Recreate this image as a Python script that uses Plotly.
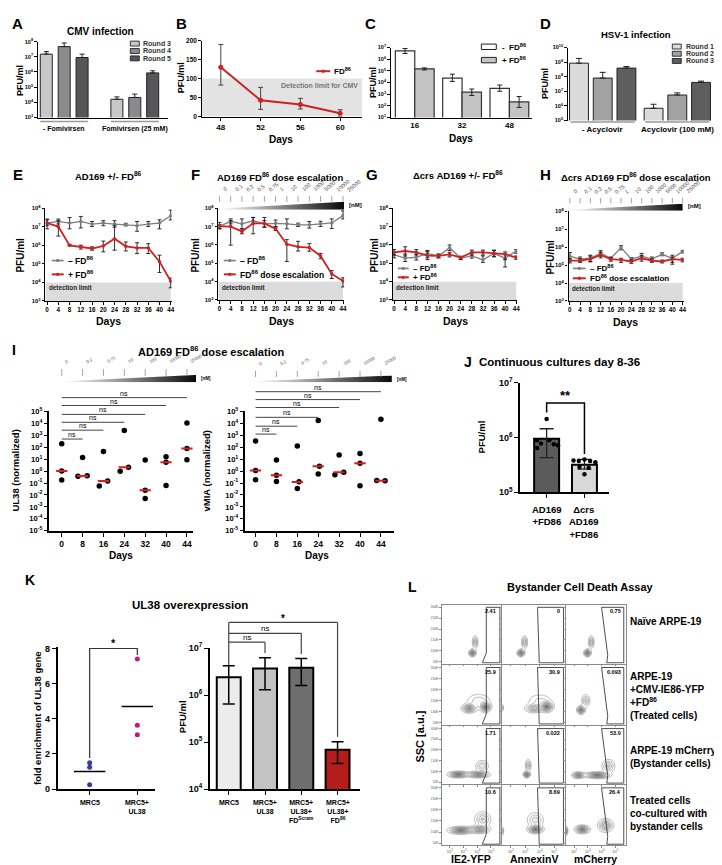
import numpy as np
import plotly.graph_objects as go

FONT = 'Liberation Sans, Arial, Helvetica, sans-serif'
W, H = 722, 865

# ======================= DATA =======================
# A  CMV infection
A_groups = ['- Fomivirsen', 'Fomivirsen (25 mM)']
A_rounds = ['Round 3', 'Round 4', 'Round 5']
A_values = [[1.5e7, 1.6e4], [4.7e7, 2.1e4], [9.0e6, 8.7e5]]
A_upper = [[2.2e7, 2.3e4], [8.1e7, 3.5e4], [1.5e7, 1.2e6]]
# B
B_days = [48, 52, 56, 60]
B_fd86 = [130, 43, 32, 9]
B_upper = [190, 77, 48, 18]
B_lower = [83, 19, 20, 0]
# C
C_days = ['16', '32', '48']
C_minus = [5.2e6, 2.4e4, 3.2e3]
C_minus_hi = [8.3e6, 5.2e4, 6.1e3]
C_minus_lo = [3.1e6, 1.26e4, 1.8e3]
C_plus = [1.5e5, 1.5e3, 2.2e2]
C_plus_hi = [1.8e5, 2.8e3, 6.3e2]
C_plus_lo = [1.2e5, 7.8e2, 74]
# D  HSV-1 infection
D_groups = ['- Acyclovir', 'Acyclovir (100 mM)']
D_rounds = ['Round 1', 'Round 2', 'Round 3']
D_values = [[8.5e8, 6.9e5], [8.1e7, 5.6e6], [3.9e8, 4.1e7]]
D_upper = [[1.8e9, 1.3e6], [2.0e8, 7.8e6], [5.0e8, 5.0e7]]
# E-H time courses (log10 PFU/ml)
DAYS = [0, 4, 8, 12, 16, 20, 24, 28, 32, 36, 40, 44]
E_minus = [7.2, 7.29, 7.2, 7.29, 7.15, 7.2, 7.15, 7.12, 7.06, 7.15, 7.2, 7.6]
E_minus_hi = [7.42, 7.42, 7.5, 7.56, 7.29, 7.33, 7.33, 7.19, 7.29, 7.29, 7.38, 7.9]
E_minus_lo = [6.89, 7.15, 6.89, 6.94, 7.02, 7.06, 6.98, 7.05, 6.76, 7.02, 6.89, 7.37]
E_plus = [7.2, 7.01, 6.0, 5.92, 5.83, 5.97, 6.36, 5.95, 5.86, 5.86, 5.12, 4.06]
E_plus_hi = [7.38, 7.33, 6.04, 6.01, 5.92, 6.23, 7.06, 6.18, 6.14, 6.09, 5.47, 4.24]
E_plus_lo = [7.06, 6.5, 5.97, 5.8, 5.74, 5.65, 5.74, 5.7, 5.56, 5.56, 4.54, 3.71]

F_minus = [7.02, 7.29, 7.15, 7.32, 7.15, 7.18, 7.15, 7.1, 7.1, 7.15, 7.2, 7.6]
F_minus_hi = [7.23, 7.42, 7.42, 7.5, 7.33, 7.36, 7.42, 7.19, 7.28, 7.29, 7.42, 7.86]
F_minus_lo = [6.88, 7.15, 6.88, 7.15, 6.97, 7.0, 6.88, 7.01, 6.92, 7.01, 6.9, 7.42]
F_plus = [7.02, 7.0, 6.74, 7.18, 7.18, 6.88, 6.04, 5.9, 5.86, 5.4, 4.42, 4.03]
F_plus_hi = [7.1, 7.32, 6.88, 7.5, 7.5, 6.97, 6.29, 6.2, 6.07, 5.54, 4.6, 4.21]
F_plus_lo = [6.88, 5.99, 6.61, 6.61, 6.97, 6.79, 5.1, 5.67, 5.66, 5.25, 4.17, 3.71]
F_doses = ['0', '0.1', '0.2', '0.5', '0.75', '1', '10', '100', '1000', '5000', '10000', '25000']

G_minus = [5.46, 5.28, 5.33, 5.54, 5.4, 5.85, 5.28, 5.4, 5.19, 5.54, 5.28, 5.67]
G_minus_hi = [5.6, 5.5, 5.5, 5.7, 5.5, 6.0, 5.38, 5.55, 5.4, 5.7, 5.5, 5.75]
G_minus_lo = [5.3, 5.1, 5.18, 5.3, 5.3, 5.7, 5.2, 5.28, 5.05, 5.35, 4.8, 5.55]
G_plus = [5.6, 5.67, 5.6, 5.42, 5.4, 5.49, 5.31, 5.6, 5.6, 5.54, 5.5, 5.31]
G_plus_hi = [5.75, 5.9, 5.75, 5.65, 5.5, 5.6, 5.38, 5.72, 5.72, 5.72, 5.62, 5.4]
G_plus_lo = [5.45, 5.4, 5.45, 5.2, 5.3, 5.35, 5.22, 5.45, 5.45, 5.38, 5.2, 5.22]

H_minus = [5.5, 5.33, 5.38, 5.66, 5.38, 5.97, 5.33, 5.5, 5.33, 5.6, 5.38, 5.75]
H_minus_hi = [5.7, 5.45, 5.55, 5.8, 5.45, 6.08, 5.42, 5.65, 5.45, 5.68, 5.55, 5.82]
H_minus_lo = [5.35, 5.2, 5.2, 5.5, 5.3, 5.85, 5.22, 5.35, 5.22, 5.52, 5.05, 5.68]
H_plus = [5.25, 5.25, 5.33, 5.56, 5.33, 5.29, 5.2, 5.38, 5.25, 5.2, 5.33, 5.29]
H_plus_hi = [5.35, 5.35, 5.5, 5.72, 5.42, 5.38, 5.3, 5.52, 5.35, 5.28, 5.45, 5.38]
H_plus_lo = [5.12, 5.15, 5.18, 5.4, 5.22, 5.15, 5.1, 5.22, 5.15, 5.12, 5.15, 5.18]

# I  (log10 normalized expression)
I_days = ['0', '8', '16', '24', '32', '40', '44']
I_doses = ['0', '0.2', '0.75', '10', '100', '10000', '25000']
UL38_log = [[2.3, 0.0, -0.75], [1.14, -0.43, -0.4], [1.64, -1.25, -0.84], [3.4, -0.01, 0.32],
            [0.92, -1.6, -2.3], [1.2, 0.73, -1.2], [4.03, 1.89, 0.95]]
UL38_off = [[0, 0, 0], [0, -0.22, 0.22], [0, -0.2, 0.2], [0, -0.2, 0.2], [0, 0, 0], [0, 0, 0], [0, 0, 0]]
UL38_median_log = [0.0, -0.42, -0.84, 0.32, -1.6, 0.73, 1.89]
VMIA_log = [[2.52, 0.05, -0.72], [0.92, -0.35, -0.88], [2.1, -0.9, -1.47], [4.23, 0.4, -0.25],
            [1.34, -0.1, -0.3], [1.47, 0.65, -1.22], [4.34, -0.79, -0.82]]
VMIA_off = [[0, 0, 0], [0, 0, 0], [0, 0.08, 0], [0, 0.06, 0], [0, 0.22, -0.2], [0, 0, 0], [0, -0.2, 0.2]]
VMIA_median_log = [0.05, -0.35, -0.92, 0.4, -0.1, 0.65, -0.8]

# J
J_groups = ['AD169<br>+FD86', '\u0394crs<br>AD169<br>+FD86']
J_mean = [9.5e5, 3.2e5]
J_upper = [1.45e6, 4.0e5]
J_lower = [4.3e5, 2.65e5]
J_points_log = [[6.34, 5.95, 5.89, 5.95, 5.88, 5.86, 5.81],
                [5.58, 5.57, 5.6, 5.57, 5.55, 5.46, 5.33, 5.45]]
J_offsets = [[0, -0.26, -0.15, 0.07, 0.19, 0.3, -0.25],
             [-0.29, -0.15, 0, 0.15, 0.29, -0.13, 0, 0.11]]

# K
K_left_groups = ['MRC5', 'MRC5+<br>UL38']
K_mrc5 = [1.5, 1.25, 0.25]
K_ul38 = [7.4, 3.63, 3.1]
K_means = [1.0, 4.7]
K_right_groups = ['MRC5', 'MRC5+<br>UL38', 'MRC5+<br>UL38+<br>FD<sup>Scram</sup>', 'MRC5+<br>UL38+<br>FD<sup>86</sup>']
K_vals = [2.4e6, 3.7e6, 3.8e6, 6.9e4]
K_upper = [4.2e6, 6.2e6, 6.0e6, 1.02e5]
K_lower = [6.5e5, 1.3e6, 1.6e6, 3.5e4]

# L  flow cytometry
L_rows = ['Na\u00efve ARPE-19', 'ARPE-19<br>+CMV-IE86-YFP<br>+FD<sup>86</sup><br>(Treated cells)',
          'ARPE-19 mCherry+<br>(Bystander cells)', 'Treated cells<br>co-cultured with<br>bystander cells']
L_cols = ['IE2-YFP', 'AnnexinV', 'mCherry']
L_pct = [['2.41', '0', '0.75'], ['25.9', '30.9', '0.093'], ['1.71', '0.022', '53.0'], ['10.6', '8.69', '26.4']]
# density blobs (log10 fluorescence, SSC in K, sd_x, sd_y, weight) describing each contour plot
L_blobs = [
    [[(3.65, 90, 0.14, 9, 1.0), (3.85, 140, 0.12, 17, 0.55)],
     [(2.7, 90, 0.14, 9, 1.0), (2.95, 140, 0.12, 17, 0.55)],
     [(2.97, 90, 0.14, 9, 1.0), (3.25, 140, 0.12, 17, 0.55)]],
    [[(3.4, 115, 0.3, 11, 0.9), (4.6, 120, 0.22, 12, 1.0), (4.1, 150, 0.55, 20, 0.35)],
     [(3.6, 115, 0.35, 11, 0.7), (4.5, 122, 0.25, 13, 1.0), (4.0, 150, 0.55, 20, 0.3), (1.3, 118, 0.1, 10, 0.9)],
     [(2.5, 108, 0.16, 10, 1.0), (2.85, 150, 0.18, 16, 0.5)]],
    [[(2.6, 85, 0.4, 8, 1.0), (4.1, 85, 0.45, 8, 0.9), (4.35, 125, 0.28, 16, 0.45)],
     [(3.1, 85, 0.13, 8, 1.0), (3.2, 128, 0.12, 16, 0.5)],
     [(2.3, 82, 0.25, 8, 0.9), (3.7, 82, 0.5, 8, 1.0), (4.5, 125, 0.28, 18, 0.5)]],
    [[(2.8, 108, 0.5, 9, 1.0), (4.2, 112, 0.4, 10, 0.8), (4.4, 158, 0.35, 20, 0.5)],
     [(1.3, 105, 0.1, 12, 0.9), (3.7, 112, 0.3, 10, 1.0), (3.7, 155, 0.35, 20, 0.45)],
     [(1.35, 105, 0.1, 12, 0.9), (2.6, 112, 0.3, 10, 1.0), (4.3, 130, 0.32, 17, 0.7)]],
]
L_gate_x = [[4.66, 5.65, 5.65, 4.37, 4.66, 4.66], [3.85, 5.65, 5.65, 3.97, 3.85],
            [4.0, 5.62, 5.62, 4.38, 4.45, 4.15, 4.0]]
L_gate_y = [[300, 300, 45, 45, 90, 300], [300, 300, 45, 45, 300], [300, 300, 45, 45, 80, 220, 300]]

# ======================= HELPERS =======================
GRAY = '#7d7d7d'
RED = '#cc2222'
traces, annotations, shapes = [], [], []
layout = dict(width=W, height=H, margin=dict(l=0, r=0, t=0, b=0), paper_bgcolor='white',
              plot_bgcolor='rgba(0,0,0,0)', showlegend=False, barmode='overlay',
              font=dict(family=FONT, color='black', size=8))
axn = [0]


def new_axes(x0, x1, y0, y1, xa, ya):
    axn[0] += 1
    s = '' if axn[0] == 1 else str(axn[0])
    xa = dict(xa)
    ya = dict(ya)
    xa['domain'] = [x0 / W, x1 / W]
    xa['anchor'] = 'y' + s
    ya['domain'] = [1 - y1 / H, 1 - y0 / H]
    ya['anchor'] = 'x' + s
    layout['xaxis' + s] = xa
    layout['yaxis' + s] = ya
    return 'x' + s, 'y' + s


def tf(size, color='black', bold=True):
    return dict(family=FONT, size=size, color=color, weight='bold' if bold else 'normal')


def ax(**kw):
    d = dict(showline=True, linecolor='black', linewidth=1.4, ticks='outside', ticklen=3, tickwidth=1.1,
             tickcolor='black', showgrid=False, zeroline=False, fixedrange=True, tickfont=tf(7))
    d.update(kw)
    return d


def logax(a, b, size, **kw):
    d = ax(type='log', range=[a, b], tickmode='array', tickvals=[10.0 ** k for k in range(a, b + 1)],
           ticktext=['10<sup>%d</sup>' % k for k in range(a, b + 1)], tickfont=tf(size))
    d.update(kw)
    return d


def hidden(rng):
    return dict(visible=False, range=rng, fixedrange=True, showgrid=False, zeroline=False)


def T(x, y, s, size=8, color='black', bold=True, xanchor='center', yanchor='middle', angle=0,
      xref='paper', yref='paper', align='center'):
    annotations.append(dict(x=(x / W) if xref == 'paper' else x, y=(1 - y / H) if yref == 'paper' else y,
                            xref=xref, yref=yref, text=s, showarrow=False, textangle=angle,
                            xanchor=xanchor, yanchor=yanchor, align=align, font=tf(size, color, bold)))


def PL(x0, y0, x1, y1, color='black', w=1.0, xref='paper'):
    cx = (lambda v: v / W) if xref == 'paper' else (lambda v: v)
    shapes.append(dict(type='line', xref=xref, yref='paper', x0=cx(x0), x1=cx(x1),
                       y0=1 - y0 / H, y1=1 - y1 / H, line=dict(color=color, width=w)))


def PR(x0, y0, x1, y1, fill, lc='#222', lw=0.9):
    shapes.append(dict(type='rect', xref='paper', yref='paper', x0=x0 / W, x1=x1 / W, y0=1 - y1 / H,
                       y1=1 - y0 / H, fillcolor=fill, line=dict(color=lc, width=lw)))


def PC(cx, cy, r, fill):
    shapes.append(dict(type='circle', xref='paper', yref='paper', x0=(cx - r) / W, x1=(cx + r) / W,
                       y0=1 - (cy + r) / H, y1=1 - (cy - r) / H, fillcolor=fill, line=dict(width=0)))


def leg(x0, x1, y, color, text, size, lw=1.6):
    PL(x0, y, x1, y, color, lw)
    PC((x0 + x1) / 2, y, 1.7, color)
    T(x1 + 2, y, text, size, xanchor='left')


def wedge(x0, x1, y0, y1, xr, wx0, wx1, tl):
    xa, ya = new_axes(x0, x1, y0, y1, hidden(xr), hidden([0, 1]))
    traces.append(go.Scatter(x=[wx0, wx1, wx1, wx0, wx0], y=[0, 0, 1, tl, 0], fill='toself', mode='lines',
                             line=dict(width=0), hoverinfo='skip',
                             fillgradient=dict(type='horizontal', colorscale=[[0, '#ffffff'], [1, '#0a0a0a']]),
                             xaxis=xa, yaxis=ya))


def err(v, hi, lo):
    return dict(type='data', symmetric=False, array=[h - a for h, a in zip(hi, v)],
                arrayminus=[a - l for l, a in zip(lo, v)])


# ======================= PANEL A =======================
xa, ya = new_axes(29, 160, 27, 104, ax(range=[-0.373, 1.472], showticklabels=False, ticks=''),
                  logax(3, 8, 5.5, ticklen=2.5))
A_colors = ['#c8c8ca', '#8b8b8d', '#565658']
for i in range(3):
    e = err(A_values[i], A_upper[i], A_values[i])
    e.update(color='#222', thickness=1, width=2.5)
    traces.append(go.Bar(x=[0, 1], y=A_values[i], width=0.17, offset=(i - 1) * 0.2535 - 0.085,
                         marker=dict(color=A_colors[i], line=dict(color='#222', width=1)), error_y=e,
                         xaxis=xa, yaxis=ya, hoverinfo='skip'))
    PR(122, 26.5 + 7.5 * i, 131, 31.5 + 7.5 * i, A_colors[i])
    T(133, 29 + 7.5 * i, A_rounds[i], 7, color='#333', xanchor='left')
for g, lab in enumerate(A_groups):
    PL(g - 0.34, 108, g + 0.34, 108, '#9a9a9a', 1.6, xref=xa)
    T(g, 115.5, lab, 7, xref=xa)
T(92, 17, 'CMV infection', 10)
T(11, 66, 'PFU/ml', 9, angle=-90)
T(1, 9, 'A', 15, xanchor='left')

# ======================= PANEL B =======================
xa, ya = new_axes(194, 355, 26, 103, ax(range=[46.1, 62.2], tickmode='array', tickvals=B_days, tickfont=tf(8)),
                  ax(range=[0, 200], tickmode='array', tickvals=[0, 50, 100, 150, 200], tickfont=tf(6.5), ticklen=2.5))
traces.append(go.Scatter(x=[46.1, 62.2, 62.2, 46.1], y=[0, 0, 100, 100], fill='toself', fillcolor='#e3e3e3',
                         mode='lines', line=dict(width=0), xaxis=xa, yaxis=ya, hoverinfo='skip'))
e = err(B_fd86, B_upper, B_lower)
e.update(color='#444', thickness=1, width=2.5)
traces.append(go.Scatter(x=B_days, y=B_fd86, mode='lines+markers', line=dict(color=RED, width=2),
                         marker=dict(color=RED, size=5), error_y=e, xaxis=xa, yaxis=ya, hoverinfo='skip'))
T(353, 71, 'Detection limit for CMV', 7, color='#777', xanchor='right')
leg(309, 323, 57, RED, 'FD<sup>86</sup>', 8, lw=2)
T(274, 126, 'Days', 10)
T(173, 64, 'PFU/ml', 9, angle=-90)
T(166, 9, 'B', 15, xanchor='left')

# ======================= PANEL C =======================
xa, ya = new_axes(384, 526, 33, 104, ax(range=[-0.505, 2.48], tickmode='array', tickvals=[0, 1, 2],
                                         ticktext=C_days, tickfont=tf(8), ticks=''),
                  logax(1, 7, 5.5, ticklen=2.5))
for vals, hi, lo, off, col in ((C_minus, C_minus_hi, C_minus_lo, -0.41, 'white'),
                               (C_plus, C_plus_hi, C_plus_lo, 0.0, '#c4c4c4')):
    e = err(vals, hi, lo)
    e.update(color='#222', thickness=1, width=2.5)
    traces.append(go.Bar(x=[0, 1, 2], y=vals, width=0.41, offset=off,
                         marker=dict(color=col, line=dict(color='#333', width=1.2)), error_y=e,
                         xaxis=xa, yaxis=ya, hoverinfo='skip'))
PR(475, 29.5, 490, 35, 'white', '#222', 1)
T(494, 32, '-  FD<sup>86</sup>', 8, xanchor='left')
PR(475, 43, 490, 48.5, '#c4c4c4', '#222', 1)
T(494, 46, '+ FD<sup>86</sup>', 8, xanchor='left')
T(455, 125, 'Days', 10)
T(366, 68, 'PFU/ml', 9, angle=-90)
T(356, 9, 'C', 15, xanchor='left')

# ======================= PANEL D =======================
xa, ya = new_axes(562, 712, 33, 107, ax(range=[-0.467, 1.533], showticklabels=False, ticks='', showline=False),
                  logax(5, 10, 5.5, ticklen=2.5))
D_colors = ['#dadada', '#a2a2a2', '#5e5e5e']
for i in range(3):
    e = err(D_values[i], D_upper[i], D_values[i])
    e.update(color='#222', thickness=1, width=3)
    traces.append(go.Bar(x=[0, 1], y=D_values[i], width=0.253, offset=(i - 1) * 0.318 - 0.1265,
                         marker=dict(color=D_colors[i], line=dict(color='#222', width=1)), error_y=e,
                         xaxis=xa, yaxis=ya, hoverinfo='skip'))
    PR(667, 29.5 + 7.3 * i, 676, 34.5 + 7.3 * i, D_colors[i])
    T(679, 32 + 7.3 * i, D_rounds[i], 7, color='#333', xanchor='left')
for g, lab in enumerate(D_groups):
    PL(g - 0.43, 108.5, g + 0.43, 108.5, '#9a9a9a', 1.6, xref=xa)
    T(g, 116, lab, 8, xref=xa)
T(630, 20, 'HSV-1 infection', 9.5)
T(539, 70, 'PFU/ml', 9, angle=-90)
T(532, 9, 'D', 15, xanchor='left')


# ======================= PANELS E-H =======================
def tc_panel(x0, x1, y0, y1, xr, minus, mhi, mlo, plus, phi, plo):
    xa, ya = new_axes(x0, x1, y0, y1,
                      ax(range=xr, tickmode='array', tickvals=DAYS, ticklen=2.5, tickfont=tf(6.3)),
                      logax(3, 8, 5.8, ticklen=2.5))
    traces.append(go.Scatter(x=[xr[0], 44, 44, xr[0]], y=[1e3, 1e3, 1e4, 1e4], fill='toself',
                             fillcolor='#dcdcdc', mode='lines', line=dict(width=0), xaxis=xa, yaxis=ya,
                             hoverinfo='skip'))
    for vals, hi, lo, col, lw in ((minus, mhi, mlo, GRAY, 1.3), (plus, phi, plo, RED, 1.8)):
        v = [10 ** a for a in vals]
        e = err(v, [10 ** a for a in hi], [10 ** a for a in lo])
        e.update(color='#1a1a1a', thickness=0.9, width=2)
        traces.append(go.Scatter(x=DAYS, y=v, mode='lines+markers', line=dict(color=col, width=lw),
                                 marker=dict(color=col, size=3.5), error_y=e, xaxis=xa, yaxis=ya,
                                 hoverinfo='skip'))
    T(0.01, 0.2, 'detection limit', 6.3, color='#222', xref=xa + ' domain', yref=ya + ' domain',
      xanchor='left', yanchor='top')
    return xa, ya


def dose_marks(xa, xs, labels, y_text, y_a0, y_a1, size, angle, color='#444'):
    for xv, lab in zip(xs, labels):
        T(xv, y_text, lab, size, color=color, bold=False, xref=xa, angle=angle, xanchor='left', yanchor='bottom')
        PL(xv, y_a0, xv, y_a1, '#9a9a9a', 0.9, xref=xa)


# E
xa, ya = tc_panel(36.6, 163.5, 196, 290, [-0.6, 44.3], E_minus, E_minus_hi, E_minus_lo, E_plus, E_plus_hi, E_plus_lo)
T(100, 163, 'AD169 +/- FD<sup>86</sup>', 9.5)
T(12, 243, 'PFU/ml', 10, angle=-90)
T(100, 310, 'Days', 10.5)
T(2, 162, 'E', 15, xanchor='left')
leg(43, 55, 249, GRAY, '\u2013 FD<sup>86</sup>', 8.5)
leg(43, 55, 263, RED, '+ FD<sup>86</sup>', 8.5, lw=2)

# F
F_xr = [-0.4, 44.4]
xa, ya = tc_panel(210.5, 337, 196, 289, F_xr, F_minus, F_minus_hi, F_minus_lo, F_plus, F_plus_hi, F_plus_lo)
T(273, 164, 'AD169 FD<sup>86</sup> dose escalation', 9.5)
T(188, 243, 'PFU/ml', 10, angle=-90)
T(274, 310, 'Days', 10.5)
T(181, 162, 'F', 15, xanchor='left')
leg(216, 228, 249, GRAY, '\u2013 FD<sup>86</sup>', 8.5)
leg(216, 228, 263, RED, 'FD<sup>86</sup> dose escalation', 8.5, lw=2)
dose_marks(xa, DAYS, F_doses, 183, 183.5, 189.5, 5.5, -40)
wedge(210.5, 337, 189.5, 197.5, F_xr, 0, 44.4, 0.15)
T(340, 193, '[nM]', 6, xanchor='left')

# G
xa, ya = tc_panel(386, 511, 196, 289, [-0.45, 44.35], G_minus, G_minus_hi, G_minus_lo, G_plus, G_plus_hi, G_plus_lo)
T(452, 162, '\u0394crs AD169 +/- FD<sup>86</sup>', 9.5)
T(368, 243, 'PFU/ml', 10, angle=-90)
T(449, 310, 'Days', 10.5)
T(357, 162, 'G', 15, xanchor='left')
leg(391, 402, 257, GRAY, '\u2013 FD<sup>86</sup>', 8)
leg(391, 402, 266, RED, '+ FD<sup>86</sup>', 8, lw=2)

# H
H_xr = [-0.5, 44.45]
xa, ya = tc_panel(562.7, 678.5, 199, 290, H_xr, H_minus, H_minus_hi, H_minus_lo, H_plus, H_plus_hi, H_plus_lo)
T(630, 164, '\u0394crs AD169 FD<sup>86</sup> dose escalation', 9.5)
T(545, 245, 'PFU/ml', 10, angle=-90)
T(620, 311, 'Days', 10.5)
T(532, 162, 'H', 15, xanchor='left')
leg(567, 580, 257, GRAY, '\u2013 FD<sup>86</sup>', 8)
leg(567, 580, 267, RED, 'FD<sup>86</sup> dose escalation', 8, lw=2)
dose_marks(xa, DAYS, F_doses, 185, 185.5, 191, 5.5, -40)
wedge(562.7, 678.5, 191.5, 198.5, H_xr, 0, 44, 0.15)
T(681, 194, '[nM]', 6, xanchor='left')


# ======================= PANEL I =======================
def i_panel(x0, x1, xr, vals, offs, meds):
    xa, ya = new_axes(x0, x1, 402, 523,
                      ax(range=xr, tickmode='array', tickvals=list(range(7)), ticktext=I_days, tickfont=tf(8.5),
                         ticklen=4, linewidth=1.8),
                      logax(-5, 5, 7.5, ticklen=3, linewidth=1.8))
    xs, ys = [], []
    for i, (vv, oo) in enumerate(zip(vals, offs)):
        for v, o in zip(vv, oo):
            xs.append(i + o)
            ys.append(10 ** v)
    mx, my = [], []
    for i, m in enumerate(meds):
        mx += [i - 0.27, i + 0.27, None]
        my += [10 ** m, 10 ** m, None]
    traces.append(go.Scatter(x=xs, y=ys, mode='markers', marker=dict(color='black', size=5.5),
                             xaxis=xa, yaxis=ya, hoverinfo='skip'))
    traces.append(go.Scatter(x=mx, y=my, mode='lines', line=dict(color='#d42020', width=2),
                             xaxis=xa, yaxis=ya, hoverinfo='skip'))
    return xa, ya


def ns_brackets(xa, levels):
    for k, yp in enumerate(levels, start=1):
        PL(0, yp, k, yp, '#444', 1, xref=xa)
        T(k / 2, yp - 4.5, 'ns', 7, bold=False, xref=xa)


I_left_xr = [-0.62, 6.29]
xa, ya = i_panel(40, 185, I_left_xr, UL38_log, UL38_off, UL38_median_log)
ns_brackets(xa, [430, 421, 413, 405, 396, 388])
dose_marks(xa, list(range(7)), I_doses, 357, 359, 366, 4.5, -30, color='#555')
wedge(40, 200, 365, 372.5, [-0.62, 7.0], 0.1, 6.43, 0.15)
T(191, 369, '[nM]', 4.5, xanchor='left')

I_right_xr = [-0.52, 6.62]
xa, ya = i_panel(237, 387, I_right_xr, VMIA_log, VMIA_off, VMIA_median_log)
ns_brackets(xa, [425, 417, 408, 398, 390, 382])
dose_marks(xa, list(range(7)), I_doses, 359, 361, 367, 4.5, -30, color='#555')
wedge(237, 395, 365.5, 372.5, [-0.52, 7.0], -0.05, 6.52, 0.15)
T(388, 370, '[nM]', 4.5, xanchor='left')

T(7, 462, 'UL38 (normalized)', 9.5, angle=-90)
T(199, 462, 'vMIA (normalized)', 9.5, angle=-90)
T(113, 548, 'Days', 10)
T(310, 548, 'Days', 10)
T(203, 341, 'AD169 FD<sup>86</sup> dose escalation', 11)
T(1, 340, 'I', 14, xanchor='left')

# ======================= PANEL J =======================
xa, ya = new_axes(514, 603, 373, 484,
                  ax(range=[-0.70, 1.64], showticklabels=False, tickmode='array', tickvals=[0, 1], ticklen=4,
                     linewidth=1.8),
                  logax(5, 7, 9, ticklen=4, linewidth=1.8))
e = err(J_mean, J_upper, J_lower)
e.update(color='#222', thickness=1.3, width=7)
traces.append(go.Bar(x=[0, 1], y=J_mean, width=0.66, marker=dict(color=['#5b5b5b', '#d8d8d8'],
                     line=dict(color='black', width=2)), error_y=e, xaxis=xa, yaxis=ya, hoverinfo='skip'))
jx, jy = [], []
for g, (pts, offs) in enumerate(zip(J_points_log, J_offsets)):
    for v, o in zip(pts, offs):
        jx.append(g + o)
        jy.append(10 ** v)
traces.append(go.Scatter(x=jx, y=jy, mode='markers', marker=dict(color='black', size=4.5),
                         xaxis=xa, yaxis=ya, hoverinfo='skip'))
traces.append(go.Scatter(x=[0, 0, 1, 1], y=[10 ** 6.46, 10 ** 6.63, 10 ** 6.63, 10 ** 5.7], mode='lines',
                         line=dict(color='black', width=1.5), xaxis=xa, yaxis=ya, hoverinfo='skip'))
T(0.5, 386, '**', 13, xref=xa)
for g, lab in enumerate(J_groups):
    T(g, 494, lab, 9.5, xref=xa, yanchor='top')
T(475, 428, 'PFU/ml', 9.5, angle=-90)
T(456, 352, 'J', 14, xanchor='left')
T(471, 352, 'Continuous cultures day 8-36', 11.5, xanchor='left')

# ======================= PANEL K =======================
xa, ya = new_axes(49, 147, 641, 785,
                  ax(range=[-0.67, 1.375], showticklabels=False, tickmode='array', tickvals=[0, 1], ticklen=4,
                     linewidth=1.6),
                  ax(range=[0, 8.08], tickmode='array', tickvals=[0, 2, 4, 6, 8], tickfont=tf(9), ticklen=4,
                     linewidth=1.6))
traces.append(go.Scatter(x=[0] * len(K_mrc5), y=K_mrc5, mode='markers', marker=dict(color='#3b3b9e', size=5),
                         xaxis=xa, yaxis=ya, hoverinfo='skip'))
traces.append(go.Scatter(x=[1] * len(K_ul38), y=K_ul38, mode='markers', marker=dict(color='#c8187a', size=5),
                         xaxis=xa, yaxis=ya, hoverinfo='skip'))
mx, my = [], []
for g, m in enumerate(K_means):
    mx += [g - 0.33, g + 0.33, None]
    my += [m, m, None]
traces.append(go.Scatter(x=mx, y=my, mode='lines', line=dict(color='black', width=1.5),
                         xaxis=xa, yaxis=ya, hoverinfo='skip'))
traces.append(go.Scatter(x=[0, 0, 1, 1], y=[1.77, 8.0, 8.0, 7.63], mode='lines', line=dict(color='#333', width=1.2),
                         xaxis=xa, yaxis=ya, hoverinfo='skip'))
T(0.5, 637, '*', 11, xref=xa)
for g, lab in enumerate(K_left_groups):
    T(g, 793, lab, 7, xref=xa, yanchor='top')
T(28, 713, 'fold enrichment of UL38 gene', 9.5, angle=-90)

xa, ya = new_axes(202, 353, 642, 785,
                  ax(range=[-0.52, 3.62], showticklabels=False, tickmode='array', tickvals=[0, 1, 2, 3], ticklen=4,
                     linewidth=1.6),
                  logax(4, 7, 9, ticklen=4, linewidth=1.6))
e = err(K_vals, K_upper, K_lower)
e.update(color='black', thickness=1.5, width=6)
traces.append(go.Bar(x=[0, 1, 2, 3], y=K_vals, width=0.66,
                     marker=dict(color=['#ececec', '#c3c3c3', '#6e6e6e', '#b51c1c'], line=dict(color='black', width=2)),
                     error_y=e, xaxis=xa, yaxis=ya, hoverinfo='skip'))
PL(0, 616, 0, 660, '#444', 1.2, xref=xa)
for k, top, bottom, lab, ly in ((1, 636, 647, 'ns', 631.5), (2, 627, 648, 'ns', 622.5), (3, 616, 732, '*', 612)):
    PL(0, top, k, top, '#444', 1.2, xref=xa)
    PL(k, top, k, bottom, '#444', 1.2, xref=xa)
    T(k / 2, ly, lab, 8 if lab == 'ns' else 10, bold=(lab == '*'), xref=xa)
for g, lab in enumerate(K_right_groups):
    T(g, 793, lab, 7, xref=xa, yanchor='top')
T(174, 712, 'PFU/ml', 9.5, angle=-90)
T(182, 598, 'UL38 overexpression', 11.5)
T(14, 573, 'K', 14, xanchor='left')

# ======================= PANEL L =======================
L_col_px = [(435, 495), (496, 559), (560, 620)]
L_row_px = [(598, 658), (659, 720), (721, 780), (781, 842)]
xg = np.linspace(1.4, 5.75, 80)
yg = np.linspace(40, 312, 70)
XG, YG = np.meshgrid(xg, yg)
for r in range(4):
    for c in range(3):
        xa, ya = new_axes(L_col_px[c][0], L_col_px[c][1], L_row_px[r][0], L_row_px[r][1],
                          dict(range=[1.4, 5.75], showline=True, mirror=True, linecolor='#8a8a8a', linewidth=0.8,
                               ticks='outside', ticklen=1.5, tickwidth=0.5, tickcolor='#888', tickmode='array',
                               tickvals=[2, 3, 4, 5], ticktext=['10<sup>%d</sup>' % k for k in (2, 3, 4, 5)],
                               showticklabels=(r == 3), tickfont=tf(4, '#555', False), showgrid=False,
                               zeroline=False, fixedrange=True),
                          dict(range=[40, 312], showline=True, mirror=True, linecolor='#8a8a8a', linewidth=0.8,
                               ticks='outside', ticklen=1.5, tickwidth=0.5, tickcolor='#888', tickmode='array',
                               tickvals=[50, 100, 150, 200, 250, 300],
                               ticktext=['50K', '100K', '150K', '200K', '250K', '300K'],
                               showticklabels=(c == 0), tickfont=tf(3.3, '#555', False), showgrid=False,
                               zeroline=False, fixedrange=True))
        z = np.zeros_like(XG)
        for (cx, cy, sx, sy, wgt) in L_blobs[r][c]:
            z += wgt * np.exp(-((XG - cx) ** 2 / (2 * sx ** 2) + (YG - cy) ** 2 / (2 * sy ** 2)))
        z = z / z.max()
        traces.append(go.Contour(x=xg, y=yg, z=z, showscale=False, zmin=0, zmax=1, zauto=False,
                                 contours=dict(coloring='fill', start=0.12, end=0.96, size=0.12),
                                 colorscale=[[0, 'rgba(255,255,255,0)'], [0.12, 'rgba(255,255,255,0)'],
                                             [0.3, '#f4f4f4'], [0.7, '#c4c4c4'], [1, '#5f5f5f']],
                                 line=dict(color='#808080', width=0.55), xaxis=xa, yaxis=ya, hoverinfo='skip'))
        traces.append(go.Scatter(x=L_gate_x[c], y=L_gate_y[c], mode='lines', line=dict(color='#222', width=0.8),
                                 xaxis=xa, yaxis=ya, hoverinfo='skip'))
        T(0.95, 0.97, L_pct[r][c], 5.5, xref=xa + ' domain', yref=ya + ' domain', xanchor='right', yanchor='top')

L_row_y = [615, 691, 752, 810]
for r in range(4):
    T(622, L_row_y[r], L_rows[r], 10, xanchor='left', align='left')
T(413, 732, 'SSC [a.u.]', 11, angle=-90)
for c, lab in enumerate(L_cols):
    T((L_col_px[c][0] + L_col_px[c][1]) / 2, 856, lab, 10.5)
T(575, 580, 'Bystander Cell Death Assay', 11)
T(399, 580, 'L', 14, xanchor='left')

layout['annotations'] = annotations
layout['shapes'] = shapes
fig = go.Figure(data=traces, layout=layout)
fig.write_html('out.html')
